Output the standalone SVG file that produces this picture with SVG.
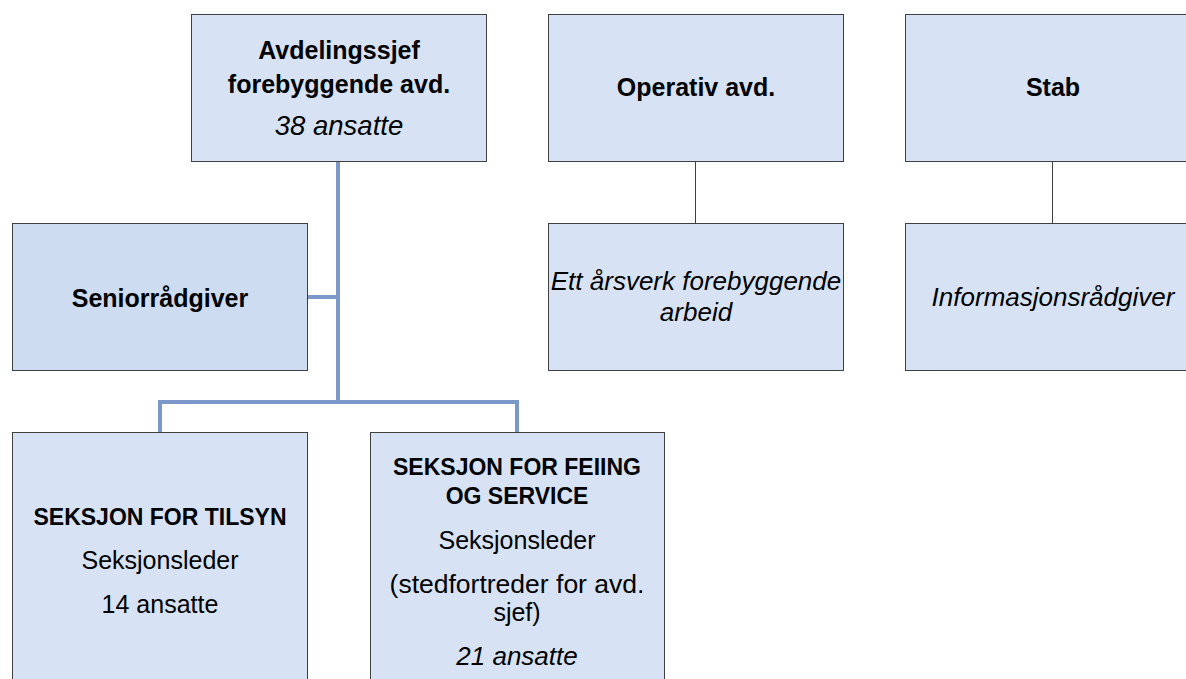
<svg xmlns="http://www.w3.org/2000/svg" width="1186" height="679" viewBox="0 0 1186 679">
<style>
.box{fill:#d7e3f4;stroke:#404040;stroke-width:1}
.box2{fill:#cddcf1;stroke:#404040;stroke-width:1}
text{font-family:"Liberation Sans",Arial,sans-serif;font-size:25px;fill:#000;text-anchor:middle}
.b{font-weight:bold}
.u{font-size:23px}
.i{font-style:italic;font-size:26px}
.blue{stroke:#7b98c9;stroke-width:4;fill:none}
.thin{stroke:#404040;stroke-width:1;fill:none}
</style>
<rect width="1186" height="679" fill="#fff"/>
<g id="connectors">
<path class="blue" d="M338 161V402M307 297H338M160 432V402H517V432"/>
<path class="thin" d="M695.5 161V223M1052.5 161V223"/>
</g>
<g id="avdelingssjef">
<rect class="box" x="191.5" y="14.5" width="295" height="147"/>
<text class="b" x="339" y="59">Avdelingssjef</text>
<text class="b" x="339" y="93">forebyggende avd.</text>
<text class="i" x="339" y="135" style="font-size:27.5px">38 ansatte</text>
</g>
<g id="seniorradgiver">
<rect class="box2" x="12.5" y="223.5" width="295" height="147"/>
<text class="b" x="160" y="307">Seniorrådgiver</text>
</g>
<g id="operativ">
<rect class="box" x="548.5" y="14.5" width="295" height="147"/>
<text class="b" x="696" y="96">Operativ avd.</text>
</g>
<g id="arsverk">
<rect class="box" x="548.5" y="223.5" width="295" height="147"/>
<text class="i" x="696" y="290">Ett årsverk forebyggende</text>
<text class="i" x="696" y="321">arbeid</text>
</g>
<g id="stab">
<rect class="box" x="905.5" y="14.5" width="295" height="147"/>
<text class="b" x="1053" y="96">Stab</text>
</g>
<g id="informasjon">
<rect class="box" x="905.5" y="223.5" width="295" height="147"/>
<text class="i" x="1053" y="306">Informasjonsrådgiver</text>
</g>
<g id="tilsyn">
<rect class="box" x="12.5" y="432.5" width="295" height="260"/>
<text class="b u" x="160" y="525">SEKSJON FOR TILSYN</text>
<text x="160" y="569">Seksjonsleder</text>
<text x="160" y="613">14 ansatte</text>
</g>
<g id="feiing">
<rect class="box" x="370.5" y="432.5" width="294" height="260"/>
<text class="b u" x="517" y="475">SEKSJON FOR FEIING</text>
<text class="b u" x="517" y="504">OG SERVICE</text>
<text x="517" y="549">Seksjonsleder</text>
<text x="517" y="593" style="font-size:26.5px">(stedfortreder for avd.</text>
<text x="517" y="621">sjef)</text>
<text class="i" x="517" y="665">21 ansatte</text>
</g>
</svg>
